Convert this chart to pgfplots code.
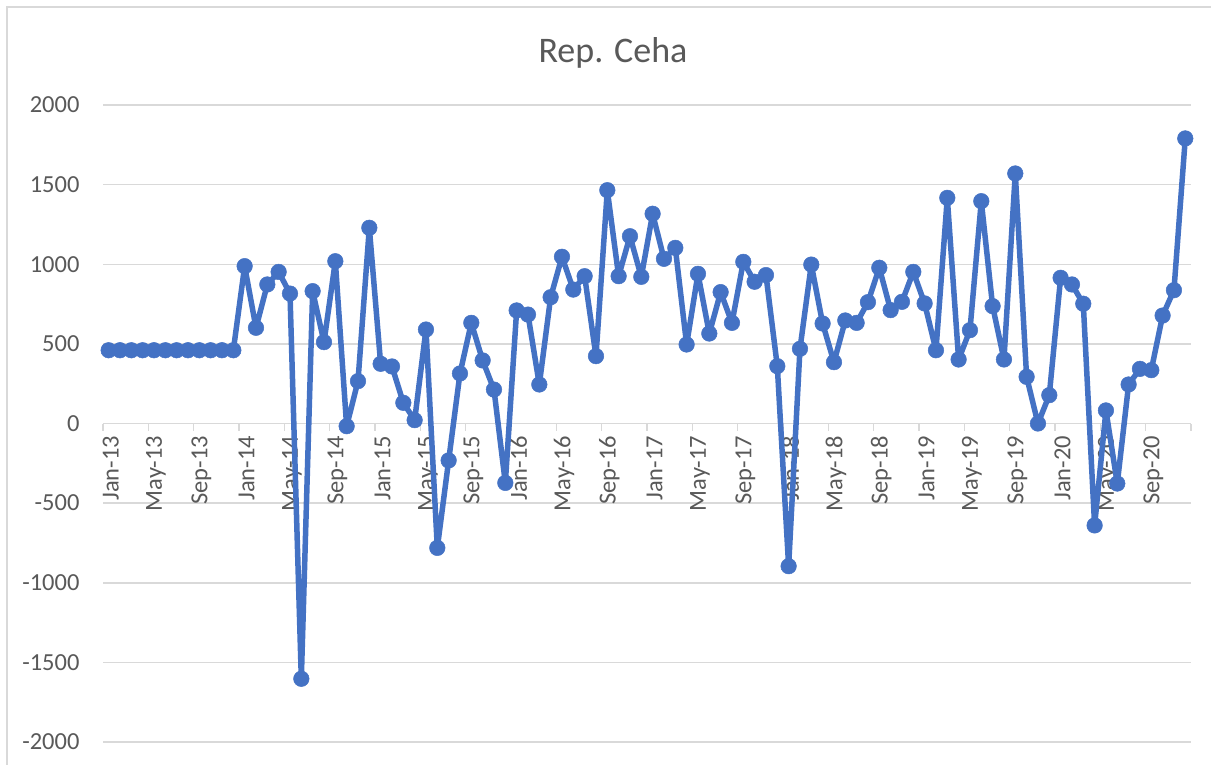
\documentclass[border=0pt]{standalone}
\usepackage{pgfplots}
\pgfplotsset{compat=1.18}
\usepackage{fontspec}
\setmainfont{Carlito}
\definecolor{lineblue}{HTML}{4472C4}
\definecolor{gridgray}{HTML}{D9D9D9}
\definecolor{labgray}{HTML}{595959}
\begin{document}
\begin{tikzpicture}[x=1pt,y=1pt]
\path[use as bounding box] (0,0) rectangle (1211,-765);
\draw[gridgray, line width=1.5pt] (7,-7) rectangle (1225,-780);
\node[anchor=base, text=labgray, font=\fontsize{36}{42}\selectfont] at (613,-63) {Rep. Ceha};
\begin{axis}[
  at={(103pt,-742pt)}, anchor=south west,
  scale only axis, width=1088pt, height=637pt,
  xmin=-0.5, xmax=95.5, ymin=-2000, ymax=2000,
  axis x line=middle, axis y line=left,
  x axis line style={-, gridgray, line width=1.5pt},
  y axis line style={draw=none},
  hide obscured x ticks=false,
  hide obscured y ticks=false,
  ytick={-2000,-1500,-1000,-500,0,500,1000,1500,2000},
  yticklabels={-2000,-1500,-1000,-500,0,500,1000,1500,2000},
  ytick style={draw=none},
  ymajorgrids, grid style={gridgray, line width=1.5pt},
  xtick={-0.5,3.5,7.5,11.5,15.5,19.5,23.5,27.5,31.5,35.5,39.5,43.5,47.5,51.5,55.5,59.5,63.5,67.5,71.5,75.5,79.5,83.5,87.5,91.5,95.5},
  xticklabels={},
  tick align=outside,
  major tick length=7pt,
  xtick style={draw=gridgray, line width=1.5pt},
  extra x ticks={0,4,...,92},
  extra x tick labels={Jan-13,May-13,Sep-13,Jan-14,May-14,Sep-14,Jan-15,May-15,Sep-15,Jan-16,May-16,Sep-16,Jan-17,May-17,Sep-17,Jan-18,May-18,Sep-18,Jan-19,May-19,Sep-19,Jan-20,May-20,Sep-20},
  extra x tick style={grid=none, major tick length=0pt},
  tick label style={text=labgray, font=\fontsize{24.5}{28}\selectfont},
  xticklabel style={rotate=90, anchor=east, xshift=-9pt, yshift=-2pt},
  yticklabel style={anchor=east, xshift=-13pt},
  clip=false,
]
\addplot[lineblue, line width=5.5pt, line join=round, mark=*, mark size=7.8pt, mark options={fill=lineblue, draw=lineblue, line width=0.5pt}] coordinates {
(0,460)(1,460)(2,460)(3,460)(4,460)(5,460)(6,460)(7,460)(8,460)(9,460)(10,460)(11,460)
(12,988)(13,601)(14,873)(15,952)(16,816)(17,-1603)(18,831)(19,511)(20,1019)(21,-17)(22,266)(23,1229)
(24,375)(25,358)(26,130)(27,21)(28,590)(29,-781)(30,-232)(31,314)(32,632)(33,396)(34,213)(35,-373)
(36,710)(37,684)(38,245)(39,793)(40,1047)(41,841)(42,925)(43,423)(44,1465)(45,925)(46,1176)(47,921)
(48,1317)(49,1034)(50,1103)(51,496)(52,940)(53,565)(54,825)(55,632)(56,1015)(57,890)(58,932)(59,360)
(60,-896)(61,469)(62,998)(63,628)(64,385)(65,647)(66,632)(67,762)(68,978)(69,712)(70,764)(71,952)
(72,754)(73,460)(74,1417)(75,402)(76,586)(77,1396)(78,737)(79,402)(80,1570)(81,293)(82,0)(83,178)
(84,915)(85,873)(86,752)(87,-640)(88,82)(89,-377)(90,245)(91,343)(92,335)(93,678)(94,837)(95,1790)
};
\end{axis}
\end{tikzpicture}
\end{document}
